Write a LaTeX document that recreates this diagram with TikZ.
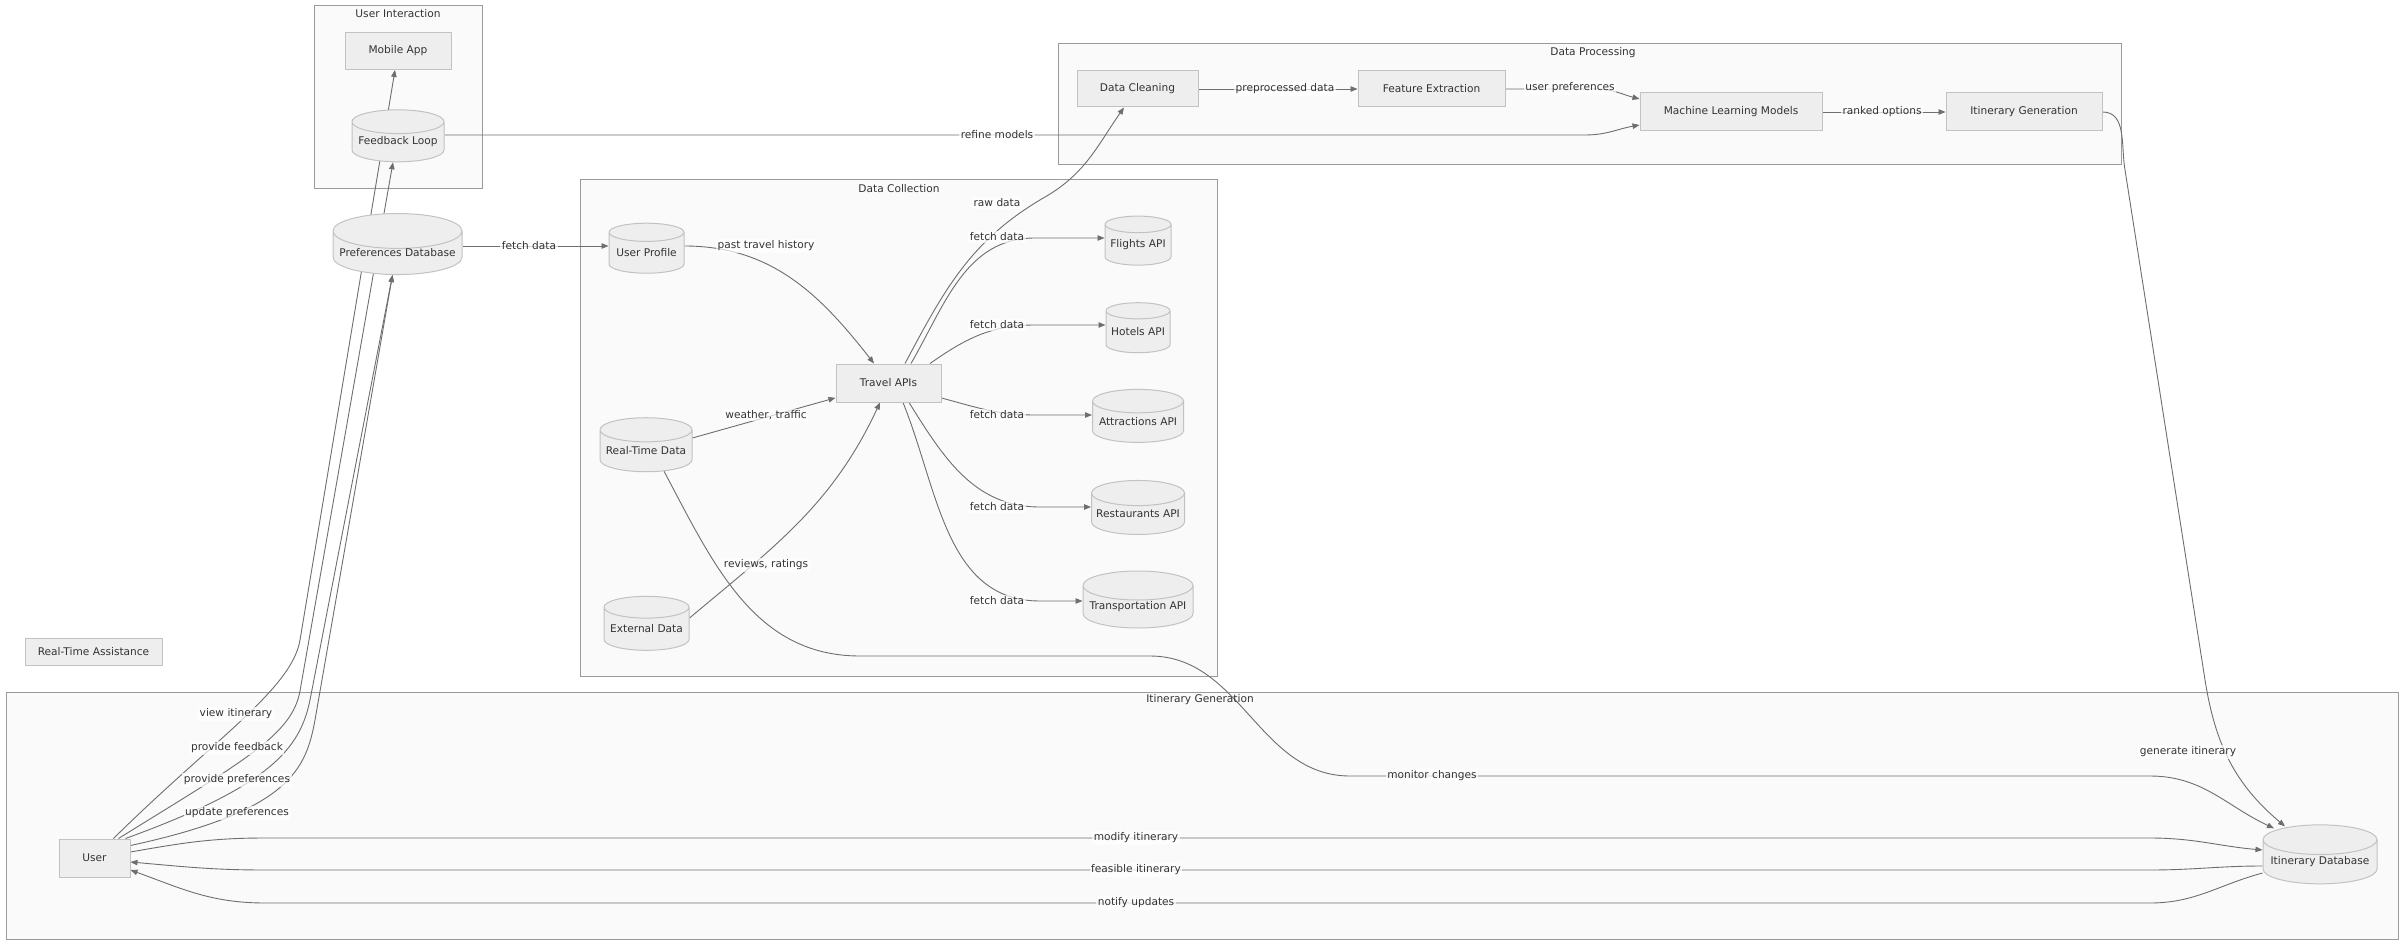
\documentclass[tikz,border=0pt]{standalone}
\usepackage{fontspec}
\setmainfont{DejaVu Sans}
\usetikzlibrary{shapes.geometric,arrows.meta,calc}
\definecolor{boxfill}{HTML}{EEEEEE}
\definecolor{boxline}{HTML}{C2C2C2}
\definecolor{grpfill}{HTML}{FAFAFA}
\definecolor{grpline}{HTML}{9A9A9A}
\definecolor{edgecol}{HTML}{6E6E6E}
\definecolor{txtcol}{HTML}{333333}
\pgfdeclarelayer{bg}
\pgfdeclarelayer{links}
\pgfsetlayers{bg,links,main}
\tikzset{
  every node/.style={font=\fontsize{10.6}{12}\selectfont,text=txtcol},
  proc/.style={rectangle,draw=boxline,fill=boxfill,line width=1pt,inner sep=0pt},
  store/.style={cylinder,shape border rotate=90,aspect=0.3,draw=boxline,fill=boxfill,
    line width=1pt,inner sep=0pt},
  grp/.style={draw=grpline,fill=grpfill,line width=1pt},
  link/.style={draw=edgecol,line width=0.9pt,-{Triangle[length=7pt,width=5.5pt]}},
  lbl/.style={fill=white,fill opacity=0.7,text opacity=1,inner sep=1.5pt},
}
\begin{document}
\begin{tikzpicture}[x=1pt,y=1pt,line join=round]
\useasboundingbox (0,0) rectangle (2400,-944);
% groups
\begin{pgfonlayer}{bg}
\draw[grp] (314,-6) rectangle (482,-189);
\draw[grp] (580,-180) rectangle (1217,-676);
\draw[grp] (1058,-44) rectangle (2121,-165);
\draw[grp] (6,-692) rectangle (2398,-939);
\end{pgfonlayer}
\node (tinteract) at (398,-14) {User Interaction};
\node (tcollect) at (899,-189) {Data Collection};
\node (tprocess) at (1593,-53) {Data Processing};
\node (tgenerate) at (1200,-700) {Itinerary Generation};
% nodes
\node[proc,minimum width=106pt,minimum height=37pt] (mobile) at (398,-51) {Mobile App};
\node[store,minimum width=92pt,minimum height=52pt] (feedback) at (398,-142) {Feedback Loop};
\node[store,minimum width=129pt,minimum height=58pt] (prefdb) at (397.5,-253) {Preferences Database};
\node[store,minimum width=75pt,minimum height=50pt] (userprof) at (646.5,-253) {User Profile};
\node[proc,minimum width=105pt,minimum height=38pt] (travel) at (888.5,-383) {Travel APIs};
\node[store,minimum width=66pt,minimum height=49pt] (flights) at (1138,-245) {Flights API};
\node[store,minimum width=64pt,minimum height=50pt] (hotels) at (1138,-332) {Hotels API};
\node[store,minimum width=91pt,minimum height=53pt] (attract) at (1138,-422) {Attractions API};
\node[store,minimum width=93pt,minimum height=54pt] (restaur) at (1138,-514) {Restaurants API};
\node[store,minimum width=110pt,minimum height=57pt] (transp) at (1138,-607) {Transportation API};
\node[store,minimum width=92pt,minimum height=54pt] (realtime) at (646,-451) {Real-Time Data};
\node[store,minimum width=85pt,minimum height=54pt] (external) at (646.5,-629) {External Data};
\node[proc,minimum width=121pt,minimum height=36pt] (clean) at (1137.5,-89) {Data Cleaning};
\node[proc,minimum width=147pt,minimum height=36pt] (feature) at (1431.5,-89) {Feature Extraction};
\node[proc,minimum width=182pt,minimum height=38pt] (mlm) at (1731,-112) {Machine Learning Models};
\node[proc,minimum width=156pt,minimum height=38pt] (itgen) at (2024,-112) {Itinerary Generation};
\node[proc,minimum width=137pt,minimum height=27pt] (rtassist) at (93.5,-651.5) {Real-Time Assistance};
\node[proc,minimum width=71pt,minimum height=38pt] (user) at (94.5,-858) {User};
\node[store,minimum width=114pt,minimum height=59pt] (itindb) at (2320,-862) {Itinerary Database};
% connectors
\begin{pgfonlayer}{links}
\draw[link] ($(user.north east)+(-17,0)$) .. controls (212,-741) and (292,-689) .. (300,-640) -- ($(mobile.south)+(-3,0)$);
\draw[link] ($(user.north east)+(-12,0)$) .. controls (245,-760) and (292,-735) .. (300,-691) -- ($(feedback.south)+(-5,0)$);
\draw[link] ($(user.north east)+(-5,0)$) .. controls (270,-786) and (300,-749) .. (310,-700) -- ($(prefdb.south)+(-5,0)$);
\draw[link] ($(user.north east)+(0,-7)$) .. controls (290,-811) and (306,-769) .. (315,-720) -- ($(prefdb.south)+(-5,0)$);
\draw[link] (prefdb.east |- 0,-246) -- (userprof.west |- 0,-246);
\draw[link] (userprof.east |- 0,-246) to[out=0,in=128] ($(travel.north)+(-14.5,0)$);
\draw[link] (realtime) -- (travel);
\draw[link] ($(external.east)+(0,11)$) to[out=40,in=245] ($(travel.south)+(-8.5,0)$);
\draw[link] ($(travel.north)+(16.5,0)$) to[out=62,in=210] (1045,-197) to[out=30,in=235] ($(clean.south)+(-13.5,0)$);
\draw[link] ($(travel.north)+(22.5,0)$) to[out=60,in=180] (1035,-238) -- (flights.west |- 0,-238);
\draw[link] ($(travel.north)+(41.5,0)$) to[out=35,in=180] (1035,-325) -- (hotels.west |- 0,-325);
\draw[link] ($(travel.east)+(0,-15)$) to[out=-15,in=180] (1035,-415) -- (attract.west |- 0,-415);
\draw[link] ($(travel.south)+(20.5,0)$) to[out=-58,in=180] (1040,-507) -- (restaur.west |- 0,-507);
\draw[link] ($(travel.south)+(14.5,0)$) to[out=-68,in=180] (1040,-601) -- (transp.west |- 0,-601);
\draw[link] (clean) -- (feature);
\draw[link] (feature.east) -- (1595,-89) to[out=0,in=165] ($(mlm.west)+(0,13)$);
\draw[link] (feedback.east |- 0,-135) -- (1585,-135) to[out=0,in=190] ($(mlm.west)+(0,-13)$);
\draw[link] (mlm) -- (itgen);
\draw[link] (itgen.east) to[out=0,in=100] (2125,-170) -- (2205,-680) to[out=-81,in=140] ($(itindb.north)+(-35,-2)$);
\draw[link] ($(realtime.south)+(18,1)$) to[out=-62,in=180] (860,-656) -- (1150,-656) to[out=0,in=180] (1350,-776) -- (2150,-776) to[out=0,in=155] ($(itindb.north)+(-46,-4)$);
\draw[link] ($(user.east)+(0,6)$) to[out=10,in=180] (265,-838) -- (2150,-838) to[out=0,in=175] (itindb.west |- 0,-850);
\draw[link] (itindb.west |- 0,-866) to[out=180,in=0] (2150,-870) -- (265,-870) to[out=180,in=-5] ($(user.east)+(0,-4)$);
\draw[link] (itindb.west |- 0,-873) to[out=195,in=0] (2150,-903) -- (265,-903) to[out=180,in=-20] ($(user.east)+(0,-12)$);
\end{pgfonlayer}
% labels
\foreach \n/\p/\t in {lview/{236,-714}/view itinerary, lfeed/{237,-748}/provide feedback,
  lprov/{237,-780}/provide preferences, lupd/{237,-813}/update preferences,
  lfetch/{529,-246}/fetch data, lpast/{766,-246}/past travel history,
  lweather/{766,-415}/{weather, traffic}, lreview/{766,-565}/{reviews, ratings},
  lraw/{997,-203}/raw data, lflights/{997,-237}/fetch data, lhotels/{997,-325}/fetch data,
  lattract/{997,-415}/fetch data, lrestaur/{997,-507}/fetch data, ltransp/{997,-601}/fetch data,
  lprep/{1285,-89}/preprocessed data, luserpref/{1570,-88}/user preferences,
  lranked/{1882,-112}/ranked options, lrefine/{997,-135}/refine models,
  lmonitor/{1432,-776}/monitor changes, lgen/{2188,-752}/generate itinerary,
  lmodify/{1136,-838}/modify itinerary, lfeasible/{1136,-870}/feasible itinerary,
  lnotify/{1136,-903}/notify updates}
  \node[lbl] (\n) at (\p) {\t};
\end{tikzpicture}
\end{document}
